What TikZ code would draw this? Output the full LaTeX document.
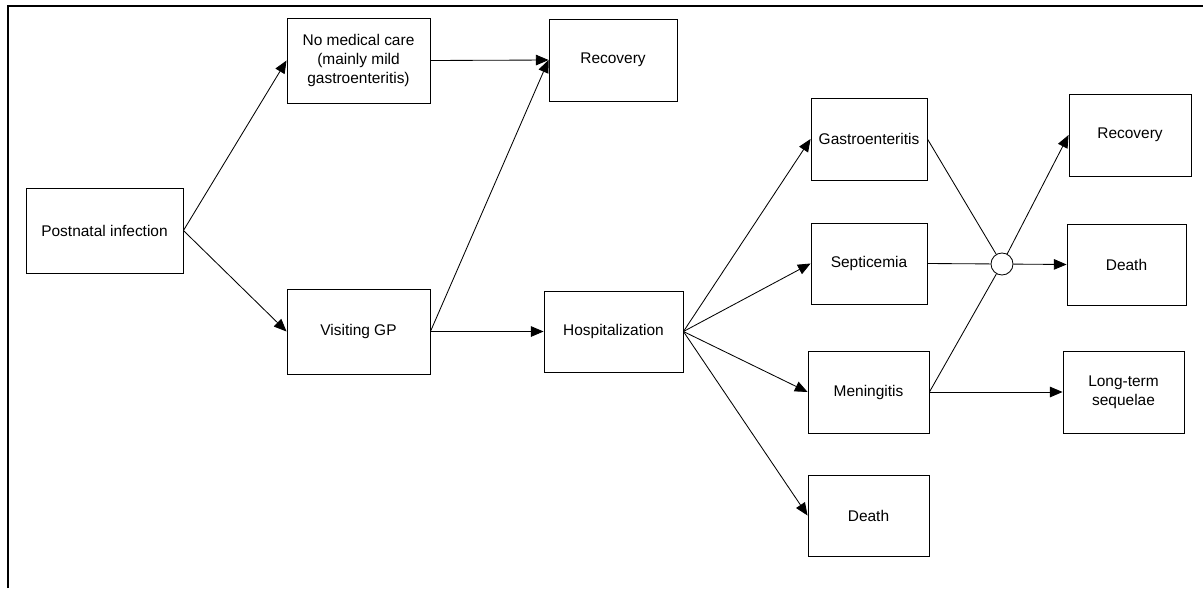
\documentclass[tikz,border=0pt]{standalone}
\usepackage{fontspec}
\setmainfont{Liberation Sans}
\usetikzlibrary{arrows.meta}
\begin{document}
\begin{tikzpicture}[x=0.025cm, y=-0.025cm,
  box/.style={draw, line width=0.6pt, align=center, inner sep=1pt,
    font=\fontsize{11}{13.5}\selectfont},
  link/.style={line width=0.6pt},
  flow/.style={line width=0.6pt, -{Triangle[length=9pt,width=7.5pt]}},
  junction/.style={draw, line width=0.6pt, circle, minimum size=0.55cm, inner sep=0pt, fill=white}
]
\useasboundingbox (0,0) rectangle (1203,588);
% open frame: top and left edges only
\draw[line width=1.5pt] (8,588) -- (8,6) -- (1203,6);

% first stage
\node[box, minimum width=3.925cm, minimum height=2.125cm] (inf) at (104.5,230.5) {Postnatal infection};
\node[box, minimum width=3.575cm, minimum height=2.125cm] (nocare) at (358.5,60.5) {No medical care\\(mainly mild\\gastroenteritis)};
\node[box, minimum width=3.575cm, minimum height=2.125cm] (gp) at (358.5,331.5) {Visiting GP};
\node[box, minimum width=3.2cm, minimum height=2.05cm] (rec1) at (613,60) {Recovery};
\node[box, minimum width=3.475cm, minimum height=2.025cm] (hosp) at (613.5,331.5) {Hospitalization};

% hospital outcomes
\node[box, minimum width=2.9cm, minimum height=2.05cm] (gastro) at (869,139) {Gastroenteritis};
\node[box, minimum width=2.9cm, minimum height=2.025cm] (sept) at (869,263.5) {Septicemia};
\node[box, minimum width=3.025cm, minimum height=2.05cm] (mening) at (868.5,392) {Meningitis};
\node[box, minimum width=3.025cm, minimum height=2.025cm] (death1) at (868.5,515.5) {Death};

% final outcomes
\node[junction] (jn) at (1002,264) {};
\node[box, minimum width=3.05cm, minimum height=2.05cm] (rec2) at (1130,135) {Recovery};
\node[box, minimum width=2.975cm, minimum height=2.025cm] (death2) at (1126.5,264.5) {Death};
\node[box, minimum width=3.025cm, minimum height=2.05cm] (seq) at (1123.5,392) {Long-term\\sequelae};

% connectors
\draw[flow] (inf.east) -- (nocare.west);
\draw[flow] (inf.east) -- (gp.west);
\draw[flow] (nocare.east) -- (rec1.west);
\draw[flow] (gp.east) -- (rec1.west);
\draw[flow] (gp.east) -- (hosp.west);
\draw[flow] (hosp.east) -- (gastro.west);
\draw[flow] (hosp.east) -- (sept.west);
\draw[flow] (hosp.east) -- (mening.west);
\draw[flow] (hosp.east) -- (death1.west);
\draw[link] (gastro.east) -- (jn);
\draw[link] (sept.east) -- (jn);
\draw[link] (mening.east) -- (jn);
\draw[flow] (jn) -- (rec2.west);
\draw[flow] (jn) -- (death2.west);
\draw[flow] (mening.east) -- (seq.west);
\end{tikzpicture}
\end{document}
